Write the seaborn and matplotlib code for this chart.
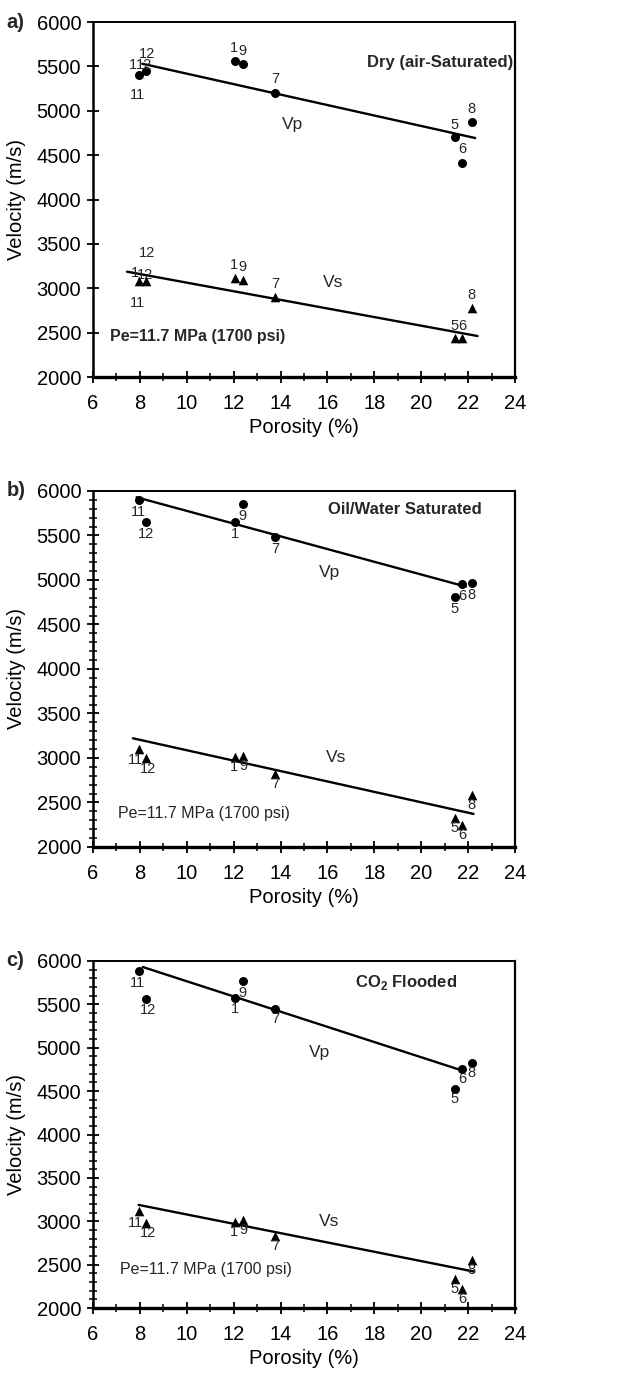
import numpy as np
import pandas as pd
import matplotlib
matplotlib.use("Agg")
import matplotlib.pyplot as plt
import seaborn as sns
from matplotlib.ticker import MultipleLocator, NullLocator

# ---------------- data ----------------
sample_ids = ["11", "12", "1", "9", "7", "5", "6", "8"]
porosity = [7.95, 8.25, 12.07, 12.38, 13.78, 21.42, 21.74, 22.15]

vp_dry = [5400, 5450, 5560, 5530, 5200, 4700, 4410, 4870]
vs_dry = [3080, 3080, 3120, 3090, 2900, 2440, 2440, 2780]
vp_oil = [5900, 5650, 5650, 5850, 5480, 4810, 4950, 4970]
vs_oil = [3100, 3000, 3010, 3020, 2820, 2320, 2250, 2580]
vp_co2 = [5880, 5560, 5570, 5770, 5450, 4530, 4750, 4820]
vs_co2 = [3120, 2980, 2990, 3010, 2830, 2330, 2220, 2550]

# trend lines (end points)
fit_dry_vp_x = [8.10, 22.30]
fit_dry_vp_y = [5530, 4693]
fit_dry_vs_x = [7.45, 22.40]
fit_dry_vs_y = [3187, 2462]
fit_oil_vp_x = [7.86, 21.90]
fit_oil_vp_y = [5929, 4925]
fit_oil_vs_x = [7.70, 22.23]
fit_oil_vs_y = [3221, 2371]
fit_co2_vp_x = [8.12, 21.82]
fit_co2_vp_y = [5931, 4731]
fit_co2_vs_x = [7.94, 22.23]
fit_co2_vs_y = [3189, 2421]

panel_letters = ["a)", "b)", "c)"]
panel_titles = ["Dry (air-Saturated)", "Oil/Water Saturated", r"CO$_\mathbf{2}$ Flooded"]
pressure_text = "Pe=11.7 MPa (1700 psi)"
x_ticks = [6, 8, 10, 12, 14, 16, 18, 20, 22, 24]
y_ticks = [2000, 2500, 3000, 3500, 4000, 4500, 5000, 5500, 6000]

# ---------------- style ----------------
sns.set_theme(style="ticks")
plt.rcParams["font.family"] = ["Liberation Sans", "DejaVu Sans"]
plt.rcParams["mathtext.fontset"] = "custom"
plt.rcParams["mathtext.rm"] = "Liberation Sans"
plt.rcParams["mathtext.bf"] = "Liberation Sans:bold"

PX = 0.72  # points per pixel at 100 dpi
FIG_H = 1376

panels = [
    dict(vp=vp_dry, vs=vs_dry,
         fvp=(fit_dry_vp_x, fit_dry_vp_y), fvs=(fit_dry_vs_x, fit_dry_vs_y),
         pos=[0.1472, 0.7260, 0.6677, 0.2580], minor_y=False,
         title_xy=(0.995, 0.887), vp_xy=(14.53, 4840), vs_xy=(16.24, 3070),
         pe_xy=(6.73, 2455), pe_bold=True,
         vp_off=[(-1, -20), (1, 17), (-1, 13), (0, 13), (0, 14), (0, 12), (0, 14), (0, 13)],
         vs_off=[(-1, -22), (1, 28), (-1, 13), (0, 13), (0, 13), (0, 12), (0, 12), (0, 13)],
         vp_extra=[(0, "1", (-6, 10)), (1, "12", (-2, 6))],
         vs_extra=[(0, "1", (-4, 8)), (1, "12", (-1, 6))]),
    dict(vp=vp_oil, vs=vs_oil,
         fvp=(fit_oil_vp_x, fit_oil_vp_y), fvs=(fit_oil_vs_x, fit_oil_vs_y),
         pos=[0.1472, 0.3845, 0.6677, 0.2587], minor_y=True,
         title_xy=(0.922, 0.947), vp_xy=(16.1, 5080), vs_xy=(16.37, 3000),
         pe_xy=(7.07, 2380), pe_bold=False,
         vp_off=[(0, -12)] * 8,
         vs_off=[(-3, -11), (2, -11), (-1, -10), (1, -10), (0, -10), (0, -10), (0, -10), (0, -10)],
         vp_extra=[], vs_extra=[]),
    dict(vp=vp_co2, vs=vs_co2,
         fvp=(fit_co2_vp_x, fit_co2_vp_y), fvs=(fit_co2_vs_x, fit_co2_vs_y),
         pos=[0.1472, 0.0494, 0.6677, 0.2522], minor_y=True,
         title_xy=(0.863, 0.9375), vp_xy=(15.68, 4950), vs_xy=(16.07, 3000),
         pe_xy=(7.15, 2440), pe_bold=False,
         vp_off=[(-1, -12), (2, -11), (0, -11), (0, -12), (0, -10), (0, -10), (0, -10), (0, -10)],
         vs_off=[(-3, -12), (2, -10), (-1, -10), (1, -10), (0, -10), (0, -10), (0, -10), (0, -10)],
         vp_extra=[], vs_extra=[]),
]

fig = plt.figure(figsize=(6.32, 13.76), dpi=100)
fig.patch.set_facecolor("white")

for i, p in enumerate(panels):
    ax = fig.add_axes(p["pos"])
    ax.set_facecolor("white")
    df = pd.DataFrame({"porosity": porosity, "vp": p["vp"], "vs": p["vs"], "id": sample_ids})

    sns.scatterplot(data=df, x="porosity", y="vp", marker="o", s=42, color="black",
                    edgecolor="black", linewidth=0, ax=ax, zorder=3)
    sns.scatterplot(data=df, x="porosity", y="vs", marker="^", s=48, color="black",
                    edgecolor="black", linewidth=0, ax=ax, zorder=3)
    sns.lineplot(x=p["fvp"][0], y=p["fvp"][1], color="black", lw=1.7, ax=ax, zorder=2)
    sns.lineplot(x=p["fvs"][0], y=p["fvs"][1], color="black", lw=1.7, ax=ax, zorder=2)

    def lab(txt, xy, off):
        ax.annotate(txt, xy, xytext=(off[0] * PX, off[1] * PX), textcoords="offset points",
                    ha="center", va="center", fontsize=10.5)

    for k in range(len(sample_ids)):
        lab(sample_ids[k], (porosity[k], p["vp"][k]), p["vp_off"][k])
        lab(sample_ids[k], (porosity[k], p["vs"][k]), p["vs_off"][k])
    for k, txt, off in p["vp_extra"]:
        lab(txt, (porosity[k], p["vp"][k]), off)
    for k, txt, off in p["vs_extra"]:
        lab(txt, (porosity[k], p["vs"][k]), off)

    ax.set_xlim(6, 24)
    ax.set_ylim(2000, 6000)
    ax.set_xticks(x_ticks)
    ax.set_yticks(y_ticks)
    ax.xaxis.set_minor_locator(MultipleLocator(1))
    if p["minor_y"]:
        ax.yaxis.set_minor_locator(MultipleLocator(100))
    else:
        ax.yaxis.set_minor_locator(NullLocator())
    ax.tick_params(axis="both", which="major", direction="inout", length=9, width=1.3,
                   labelsize=14.5, colors="black")
    ax.tick_params(axis="x", which="major", pad=8)
    ax.tick_params(axis="y", which="major", pad=4)
    ax.tick_params(axis="both", which="minor", direction="inout", length=6, width=1.1,
                   colors="black")
    for side, lw in [("left", 1.8), ("bottom", 2.4), ("top", 1.4), ("right", 1.6)]:
        ax.spines[side].set_visible(True)
        ax.spines[side].set_color("black")
        ax.spines[side].set_linewidth(lw)

    h_px = p["pos"][3] * FIG_H
    ax.set_xlabel("Porosity (%)", fontsize=14.5, color="black")
    ax.set_ylabel("Velocity (m/s)", fontsize=14.5, color="black")
    ax.xaxis.set_label_coords(0.5, -41.0 / h_px)
    ax.yaxis.set_label_coords(-0.158, 0.5)

    ax.text(-0.205, 1.0, panel_letters[i], transform=ax.transAxes, ha="left", va="center",
            fontsize=14.5, fontweight="bold")
    ax.text(p["title_xy"][0], p["title_xy"][1], panel_titles[i], transform=ax.transAxes,
            ha="right", va="center", fontsize=12, fontweight="bold")
    ax.text(p["vp_xy"][0], p["vp_xy"][1], "Vp", ha="center", va="center", fontsize=12.5)
    ax.text(p["vs_xy"][0], p["vs_xy"][1], "Vs", ha="center", va="center", fontsize=12.5)
    ax.text(p["pe_xy"][0], p["pe_xy"][1], pressure_text, ha="left", va="center",
            fontsize=11.5, fontweight="bold" if p["pe_bold"] else "normal")
    ax.grid(False)

fig.savefig("out.png", dpi=100, facecolor="white")
